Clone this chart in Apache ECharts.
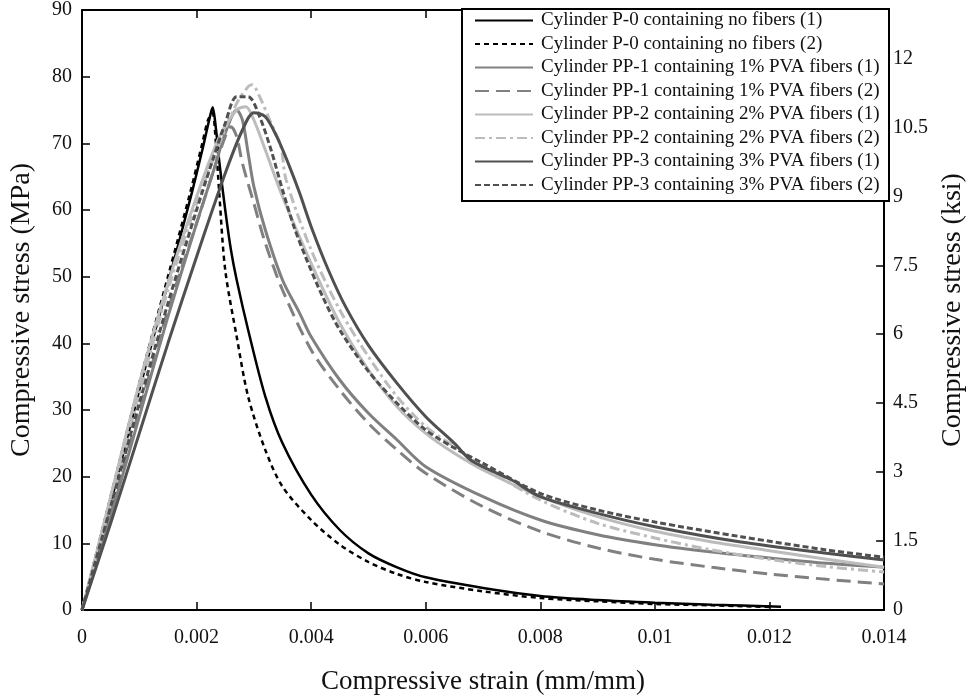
<!DOCTYPE html>
<html>
<head>
<meta charset="utf-8">
<script src="https://cdn.jsdelivr.net/npm/echarts@6/dist/echarts.min.js"></script>
<style>
html,body{margin:0;padding:0;background:#fff;}
#chart{width:975px;height:700px;}
</style>
</head>
<body>
<div id="chart"></div>
<script>
// ---- Data (strain mm/mm, stress MPa) ----
const seriesNames = [
  'Cylinder P-0 containing no fibers (1)',
  'Cylinder P-0 containing no fibers (2)',
  'Cylinder PP-1 containing 1% PVA fibers (1)',
  'Cylinder PP-1 containing 1% PVA fibers (2)',
  'Cylinder PP-2 containing 2% PVA fibers (1)',
  'Cylinder PP-2 containing 2% PVA fibers (2)',
  'Cylinder PP-3 containing 3% PVA fibers (1)',
  'Cylinder PP-3 containing 3% PVA fibers (2)'
];
const xTickLabels = ['0','0.002','0.004','0.006','0.008','0.01','0.012','0.014'];
const yLeftTicks = [0,10,20,30,40,50,60,70,80,90];
const yRightTicks = ['0','1.5','3','4.5','6','7.5','9','10.5','12'];

const p0_1 = [[0,0],[0.0005,16],[0.001,33],[0.0015,49],[0.0019,62],[0.0021,69],[0.00222,73.5],[0.00228,75.4],[0.00234,72],[0.0024,67],[0.0025,60],[0.0026,54],[0.0027,49.5],[0.0029,42],[0.0032,32],[0.0035,25],[0.004,17.3],[0.0045,12],[0.005,8.5],[0.0055,6.4],[0.006,4.9],[0.007,3.3],[0.008,2.1],[0.009,1.5],[0.01,1.1],[0.011,0.8],[0.0122,0.5]];
const p0_2 = [[0,0],[0.0005,17],[0.001,34],[0.0015,50],[0.0019,63],[0.0021,70],[0.0022,73.5],[0.00228,74.5],[0.00232,72],[0.0024,62],[0.0025,51],[0.0027,41],[0.0029,32],[0.0032,24],[0.0035,18.5],[0.004,13.5],[0.0045,9.8],[0.005,7.2],[0.0055,5.4],[0.006,4.2],[0.007,2.8],[0.008,1.8],[0.009,1.3],[0.01,0.9],[0.011,0.7],[0.012,0.45]];
const pp1_1 = [[0,0],[0.0005,14],[0.001,29],[0.0015,44],[0.002,58],[0.0023,66],[0.0025,71.5],[0.0027,75],[0.0028,73.5],[0.0029,68.5],[0.003,63.5],[0.0032,57],[0.0035,49.5],[0.0038,44.5],[0.004,41],[0.0045,34.5],[0.005,29.5],[0.0055,25.5],[0.006,21.5],[0.007,17],[0.008,13.5],[0.009,11.3],[0.01,9.8],[0.011,8.7],[0.012,7.8],[0.013,7.0],[0.014,6.4]];
const pp1_2 = [[0,0],[0.0005,15],[0.001,30],[0.0015,45],[0.002,58],[0.0023,66],[0.0025,71],[0.0026,72.5],[0.0027,71],[0.0028,67],[0.003,61],[0.0032,55],[0.0035,48],[0.004,39],[0.0045,33],[0.005,28],[0.0055,24],[0.006,20.5],[0.007,15.5],[0.008,11.8],[0.009,9.3],[0.01,7.6],[0.011,6.4],[0.012,5.4],[0.013,4.6],[0.014,3.9]];
const pp2_1 = [[0,0],[0.0005,17],[0.001,34],[0.0015,49],[0.002,62],[0.0024,71],[0.0027,75],[0.00286,75.5],[0.003,73.5],[0.0032,69],[0.0035,62],[0.004,52],[0.0045,43],[0.005,36],[0.0055,30.5],[0.006,26.5],[0.0065,23.5],[0.007,21],[0.008,17],[0.009,14],[0.01,11.8],[0.011,10.2],[0.012,8.9],[0.013,7.6],[0.014,6.4]];
const pp2_2 = [[0,0],[0.0005,16],[0.001,32.5],[0.0015,48],[0.002,61],[0.0024,70],[0.0027,76],[0.0029,78.5],[0.00297,78.8],[0.0031,77],[0.0033,73],[0.00347,69.6],[0.00356,64.6],[0.004,54],[0.0045,45],[0.005,38],[0.0055,32],[0.006,27.5],[0.0065,24.5],[0.007,21.5],[0.008,16.5],[0.009,13],[0.01,10.8],[0.011,9.0],[0.012,7.6],[0.013,6.5],[0.014,5.7]];
const pp3_1 = [[0,0],[0.0005,13],[0.001,26.5],[0.0015,40],[0.002,53],[0.0025,65.5],[0.0028,72],[0.003,74.6],[0.0032,74],[0.0034,71],[0.0036,67],[0.0038,62.5],[0.004,57.5],[0.0043,51],[0.0046,45.5],[0.005,39.7],[0.0055,34],[0.006,29],[0.0065,25],[0.0068,22.4],[0.0075,19.5],[0.008,17],[0.009,14.5],[0.01,12.5],[0.0115,10.2],[0.013,8.5],[0.014,7.5]];
const pp3_2 = [[0,0],[0.0005,15.5],[0.001,31],[0.0015,46],[0.002,60],[0.0023,68],[0.0025,73],[0.0027,77],[0.0029,77],[0.0031,74],[0.0033,69],[0.0035,63],[0.0037,57.5],[0.0039,53],[0.0042,47],[0.0045,42],[0.005,35.8],[0.0055,31],[0.006,27],[0.0065,24.3],[0.007,22],[0.008,17.5],[0.009,15],[0.01,13.2],[0.0115,11],[0.013,9],[0.014,7.9]];

const seriesData = [p0_1, p0_2, pp1_1, pp1_2, pp2_1, pp2_2, pp3_1, pp3_2];
const seriesColors = ['#000000','#000000','#808080','#808080','#bcbcbc','#bcbcbc','#505050','#505050'];
const seriesDash = ['solid',[5,4],'solid',[14,7],'solid',[10,4,3,4],'solid',[6,3]];
const seriesWidth = [2.5,2.5,3,3,3,3,3,3];

const FONT = '"Liberation Serif", "DejaVu Serif", serif';
const MPA_PER_KSI = 6.894757;

const chart = echarts.init(document.getElementById('chart'), null, {renderer:'canvas'});
const option = {
  backgroundColor: '#fff',
  animation: false,
  textStyle: {fontFamily: FONT},
  grid: {left: 81, right: 85, top: 10, bottom: 87, containLabel: false},
  graphic: [{
    type: 'rect', z: 50,
    shape: {x: 462, y: 9, width: 427, height: 192},
    style: {fill: '#fff', stroke: '#000', lineWidth: 2}
  }],
  legend: {
    orient: 'vertical', left: 474, top: 11, z: 100,
    padding: 0, itemWidth: 58, itemHeight: 18, itemGap: 4.5,
    itemStyle: {opacity: 0},
    textStyle: {fontFamily: FONT, fontSize: 19, color: '#111', padding: [0,0,0,3]},
    data: seriesNames
  },
  xAxis: [{
    type: 'value', min: 0, max: 0.014, interval: 0.002,
    name: 'Compressive strain (mm/mm)', nameLocation: 'middle', nameGap: 58,
    nameTextStyle: {fontFamily: FONT, fontSize: 27, color: '#111'},
    axisLine: {show: true, onZero: false, lineStyle: {color: '#000', width: 2}},
    axisTick: {show: true, inside: true, length: 8, lineStyle: {color: '#000', width: 1.5}},
    axisLabel: {fontFamily: FONT, fontSize: 20, color: '#111', margin: 18,
      formatter: v => xTickLabels[Math.round(v / 0.002)] ?? ''},
    splitLine: {show: false}
  },{
    type: 'value', position: 'top', min: 0, max: 0.014, interval: 0.002,
    axisLine: {show: true, onZero: false, lineStyle: {color: '#000', width: 2}},
    axisTick: {show: true, inside: true, length: 8, lineStyle: {color: '#000', width: 1.5}},
    axisLabel: {show: false}, splitLine: {show: false}
  }],
  yAxis: [{
    type: 'value', min: 0, max: 90, interval: 10,
    name: 'Compressive stress (MPa)', nameLocation: 'middle', nameGap: 46,
    nameTextStyle: {fontFamily: FONT, fontSize: 28, color: '#111'},
    axisLine: {show: true, onZero: false, lineStyle: {color: '#000', width: 2}},
    axisTick: {show: true, inside: true, length: 8, lineStyle: {color: '#000', width: 1.5}},
    axisLabel: {fontFamily: FONT, fontSize: 20, color: '#111', margin: 10,
      formatter: v => yLeftTicks.includes(v) ? String(v) : ''},
    splitLine: {show: false}
  },{
    type: 'value', position: 'right', min: 0, max: 90 / MPA_PER_KSI, interval: 1.5,
    name: 'Compressive stress (ksi)', nameLocation: 'middle', nameGap: 50,
    nameRotate: 90,
    nameTextStyle: {fontFamily: FONT, fontSize: 28, color: '#111'},
    axisLine: {show: true, onZero: false, lineStyle: {color: '#000', width: 2}},
    axisTick: {show: true, inside: true, length: 8, lineStyle: {color: '#000', width: 1.5}},
    axisLabel: {fontFamily: FONT, fontSize: 20, color: '#111', margin: 9, showMaxLabel: false,
      formatter: v => { const i = Math.round(v / 1.5); return Math.abs(v - i*1.5) < 1e-6 ? (yRightTicks[i] ?? '') : ''; }},
    splitLine: {show: false}
  }],
  series: seriesNames.map((name, i) => ({
    name, type: 'line', data: seriesData[i], xAxisIndex: 0, yAxisIndex: 0,
    symbol: 'none', smooth: 0.3, z: 2,
    lineStyle: {color: seriesColors[i], width: seriesWidth[i], type: seriesDash[i]},
    itemStyle: {color: seriesColors[i]}
  }))
};
chart.setOption(option);
</script>
</body>
</html>
